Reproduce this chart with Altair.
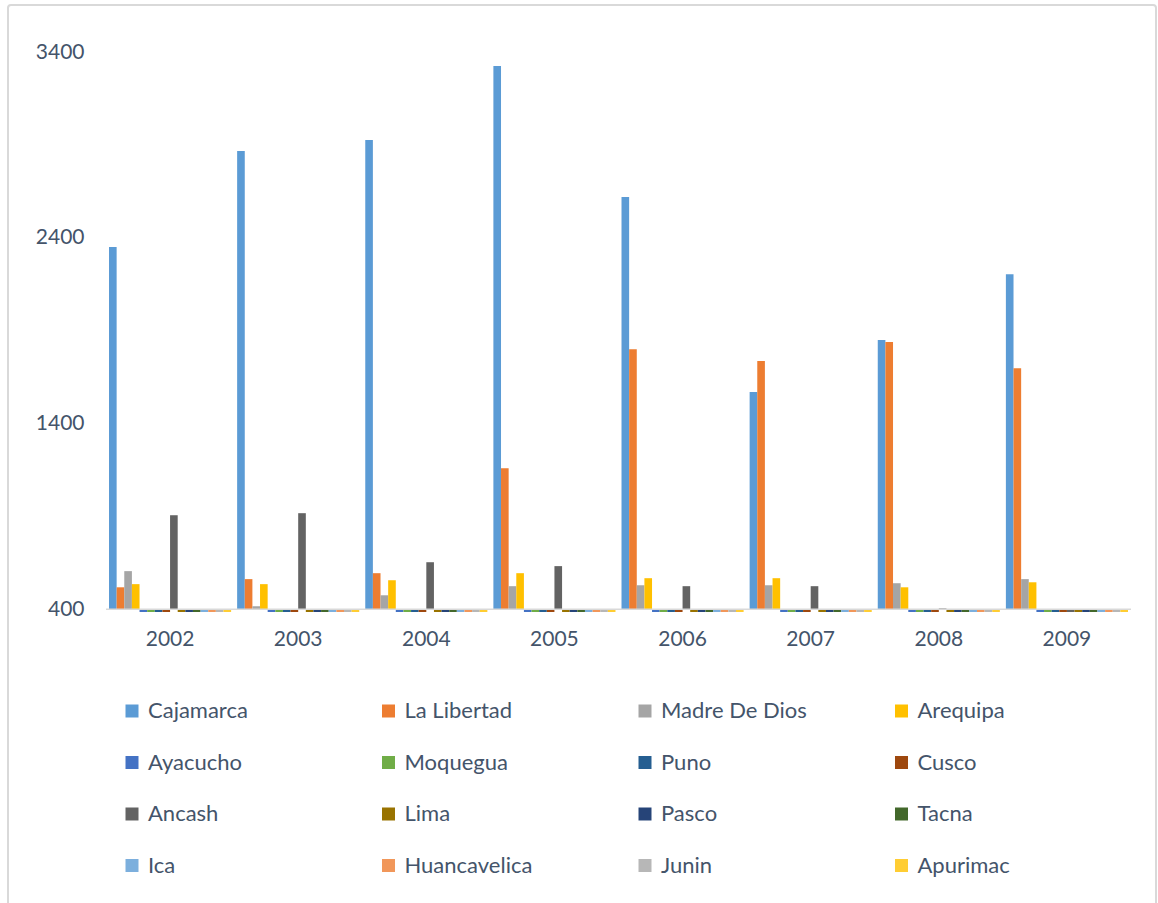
import altair as alt
import pandas as pd

# Years on the category axis
years = ["2002", "2003", "2004", "2005", "2006", "2007", "2008", "2009"]

# Regions, in legend order (row by row)
regions = [
    "Cajamarca", "La Libertad", "Madre De Dios", "Arequipa",
    "Ayacucho", "Moquegua", "Puno", "Cusco",
    "Ancash", "Lima", "Pasco", "Tacna",
    "Ica", "Huancavelica", "Junin", "Apurimac",
]

# Values per region, one per year (2002..2009)
cajamarca = [2350, 2867, 2926, 3325, 2619, 1569, 1849, 2204]
la_libertad = [518, 562, 594, 1159, 1800, 1736, 1838, 1698]
madre_de_dios = [605, 416, 475, 524, 529, 529, 540, 562]
arequipa = [535, 535, 556, 594, 567, 567, 518, 545]
ayacucho = [0, 0, 0, 0, 0, 0, 0, 0]
moquegua = [0, 0, 0, 0, 0, 0, 0, 0]
puno = [0, 0, 0, 0, 0, 0, 0, 0]
cusco = [0, 0, 0, 0, 0, 0, 0, 0]
ancash = [906, 917, 653, 632, 524, 524, 404, 0]
lima = [0, 0, 0, 0, 0, 0, 0, 0]
pasco = [0, 0, 0, 0, 0, 0, 0, 0]
tacna = [0, 0, 0, 0, 0, 0, 0, 0]
ica = [0, 0, 0, 0, 0, 0, 0, 0]
huancavelica = [0, 0, 0, 0, 0, 0, 0, 0]
junin = [0, 0, 0, 0, 0, 0, 0, 0]
apurimac = [0, 0, 0, 0, 0, 0, 0, 0]

series = [
    cajamarca, la_libertad, madre_de_dios, arequipa,
    ayacucho, moquegua, puno, cusco,
    ancash, lima, pasco, tacna,
    ica, huancavelica, junin, apurimac,
]

colors = [
    "#5B9BD5", "#ED7D31", "#A5A5A5", "#FFC000",
    "#4472C4", "#70AD47", "#255E91", "#9E480E",
    "#636363", "#997300", "#264478", "#43682B",
    "#7CAFDD", "#F1975A", "#B7B7B7", "#FFCD33",
]

rows = []
for region, vals in zip(regions, series):
    for year, v in zip(years, vals):
        rows.append({"year": year, "region": region, "value": v})
df = pd.DataFrame(rows)

text_color = "#44546A"
font = "Lato"

y_scale = alt.Scale(domain=[385, 3400], zero=False, nice=False)

bars = alt.Chart(df).mark_bar(clip=True).encode(
    x=alt.X(
        "year:N",
        sort=years,
        scale=alt.Scale(paddingInner=0.047, paddingOuter=0.0235),
        axis=alt.Axis(
            title=None, labelAngle=0, domain=False, ticks=False,
            labelPadding=16, labelFontSize=21, labelColor=text_color,
            labelFont=font,
        ),
    ),
    xOffset=alt.XOffset("region:N", sort=regions, scale=alt.Scale(paddingInner=0)),
    y=alt.Y(
        "value:Q",
        scale=y_scale,
        axis=alt.Axis(
            title=None, values=[400, 1400, 2400, 3400], format="d", grid=False,
            domain=False, ticks=False, labelPadding=22, labelFontSize=21,
            labelColor=text_color, labelFont=font,
        ),
    ),
    y2=alt.datum(400),
    color=alt.Color(
        "region:N",
        sort=regions,
        scale=alt.Scale(domain=regions, range=colors),
        legend=alt.Legend(
            title=None, orient="none", legendX=15, legendY=648,
            direction="horizontal",
            columns=4, gridAlign="all", columnPadding=83.5, rowPadding=29.5,
            symbolType="square", symbolSize=169, symbolStrokeWidth=0,
            labelFontSize=22, labelColor=text_color, labelFont=font,
            labelOffset=5,
        ),
    ),
)

# Category axis line at the 400 baseline
baseline = alt.Chart(pd.DataFrame({"base": [400]})).mark_rule(
    color="#D9D9D9", strokeWidth=1.5
).encode(y=alt.Y("base:Q", scale=y_scale))

# Light border around the whole chart
frame = alt.Chart(pd.DataFrame({"f": [0]})).mark_rect(
    fillOpacity=0, stroke="#D9D9D9", strokeWidth=2, cornerRadius=3
).encode(
    x=alt.value(-98), x2=alt.value(1050),
    y=alt.value(-47), y2=alt.value(898),
)

chart = alt.layer(bars, baseline, frame).properties(
    width=1025,
    height=560,
    autosize=alt.AutoSizeParams(type="none"),
    padding={"left": 106, "top": 52, "right": 27, "bottom": 291},
    background="white",
).configure_view(stroke=None)

chart.save("out.html", embed_options={"renderer": "svg", "actions": False})
